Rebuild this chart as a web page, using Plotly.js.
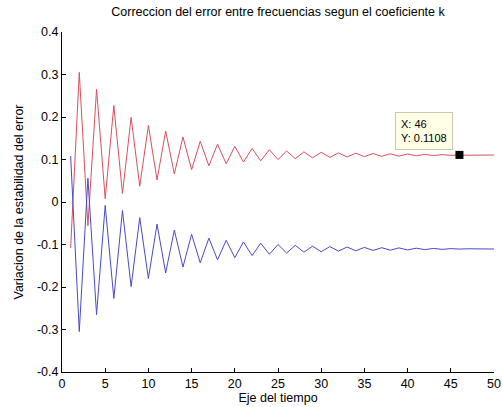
<!DOCTYPE html>
<html>
<head>
<meta charset="utf-8">
<script src="https://cdn.plot.ly/plotly-3.0.1.min.js"></script>
<style>
  html, body { margin: 0; padding: 0; background: #fff; }
  #chart { width: 502px; height: 407px; }
</style>
</head>
<body>
<div id="chart"></div>
<script>
// Time steps (samples 1..50)
const tiempo = [
  1, 2, 3, 4, 5, 6, 7, 8, 9, 10,
  11, 12, 13, 14, 15, 16, 17, 18, 19, 20,
  21, 22, 23, 24, 25, 26, 27, 28, 29, 30,
  31, 32, 33, 34, 35, 36, 37, 38, 39, 40,
  41, 42, 43, 44, 45, 46, 47, 48, 49, 50
];

// Error correction with positive coefficient (settles near 0.1108)
const errorPositivo = [
  -0.108, 0.305, -0.056, 0.265, 0.008, 0.227, 0.020, 0.199, 0.037, 0.180,
  0.052, 0.167, 0.066, 0.153, 0.076, 0.143, 0.085, 0.136, 0.090, 0.131,
  0.094, 0.126, 0.097, 0.123, 0.100, 0.120, 0.102, 0.118, 0.104, 0.117,
  0.105, 0.1155, 0.106, 0.1148, 0.1068, 0.1140, 0.1075, 0.1134, 0.1080, 0.1128,
  0.1087, 0.1121, 0.1092, 0.1115, 0.1097, 0.1108, 0.1101, 0.1107, 0.1103, 0.1106
];

// Error correction with negative coefficient (settles near -0.1108)
const errorNegativo = [
  0.108, -0.305, 0.056, -0.265, -0.008, -0.227, -0.020, -0.199, -0.037, -0.180,
  -0.052, -0.167, -0.066, -0.153, -0.076, -0.143, -0.085, -0.136, -0.090, -0.131,
  -0.094, -0.126, -0.097, -0.123, -0.100, -0.120, -0.102, -0.118, -0.104, -0.117,
  -0.105, -0.1155, -0.106, -0.1148, -0.1068, -0.1140, -0.1075, -0.1134, -0.1080, -0.1128,
  -0.1087, -0.1121, -0.1092, -0.1115, -0.1097, -0.1108, -0.1101, -0.1107, -0.1103, -0.1106
];

// Axis ticks
const xTicks = [0, 5, 10, 15, 20, 25, 30, 35, 40, 45, 50];
const xTickText = ['0', '5', '10', '15', '20', '25', '30', '35', '40', '45', '50'];
const yTicks = [-0.4, -0.3, -0.2, -0.1, 0, 0.1, 0.2, 0.3, 0.4];
const yTickText = ['-0.4', '-0.3', '-0.2', '-0.1', '0', '0.1', '0.2', '0.3', '0.4'];

// Data cursor point
const cursorX = 46;
const cursorY = 0.1108;

const font = { family: 'Liberation Sans, Arial, sans-serif', size: 12.5, color: '#000' };
const tipFont = { family: 'Liberation Sans, Arial, sans-serif', size: 11, color: '#000' };

const traces = [
  {
    x: tiempo, y: errorPositivo, type: 'scatter', mode: 'lines',
    line: { color: '#d9505e', width: 1 }, hoverinfo: 'skip'
  },
  {
    x: tiempo, y: errorNegativo, type: 'scatter', mode: 'lines',
    line: { color: '#4a4ac8', width: 1 }, hoverinfo: 'skip'
  },
  {
    x: [cursorX], y: [cursorY], type: 'scatter', mode: 'markers',
    marker: { color: '#000', size: 8, symbol: 'square', line: { width: 0 } },
    hoverinfo: 'skip'
  }
];

const layout = {
  width: 502, height: 407,
  margin: { l: 62, r: 8, t: 32, b: 35 },
  paper_bgcolor: '#fff', plot_bgcolor: '#fff',
  showlegend: false,
  font: font,
  title: {
    text: 'Correccion del error entre frecuencias segun el coeficiente k',
    font: font, x: 0.5, xref: 'paper', y: 392, yref: 'container'
  },
  xaxis: {
    range: [0, 50], tickmode: 'array', tickvals: xTicks, ticktext: xTickText,
    ticks: 'inside', ticklen: 4, tickcolor: '#000', tickwidth: 1,
    showline: true, linecolor: '#000', linewidth: 1, mirror: false,
    showgrid: false, zeroline: false, tickfont: font,
    title: { text: 'Eje del tiempo', font: font, standoff: 2 }
  },
  yaxis: {
    range: [-0.4, 0.4], tickmode: 'array', tickvals: yTicks, ticktext: yTickText,
    ticks: 'inside', ticklen: 4, tickcolor: '#000', tickwidth: 1,
    showline: true, linecolor: '#000', linewidth: 1, mirror: false,
    showgrid: false, zeroline: false, tickfont: font,
    title: { text: 'Variacion de la estabilidad del error', font: font, standoff: 10 }
  },
  annotations: [
    {
      x: cursorX, y: cursorY, xref: 'x', yref: 'y',
      text: 'X: ' + cursorX + '<br>Y: ' + cursorY,
      showarrow: false, align: 'left',
      xanchor: 'right', yanchor: 'bottom', xshift: -6, yshift: 5,
      bgcolor: '#ffffe6', bordercolor: '#c8c8b4', borderwidth: 1, borderpad: 5,
      font: tipFont
    }
  ]
};

Plotly.newPlot('chart', traces, layout, { staticPlot: true, displayModeBar: false });
</script>
</body>
</html>
